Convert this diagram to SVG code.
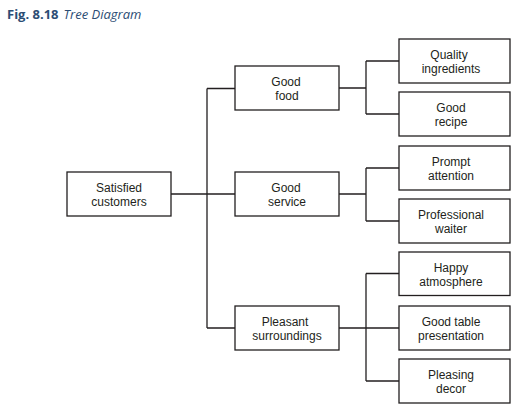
<svg xmlns="http://www.w3.org/2000/svg" width="512" height="415" viewBox="0 0 512 415">
<style>
.box{fill:#fff;stroke:#231f20;stroke-width:1.3}
.lbl{font-family:"Liberation Sans",Arial,sans-serif;font-size:12px;fill:#231f20;text-anchor:middle}
.con{fill:none;stroke:#231f20;stroke-width:1.3}
.title{font-family:"Open Sans","Noto Sans",sans-serif;font-size:13px;fill:#2c4d74}
</style>
<rect width="512" height="415" fill="#fff"/>
<text class="title" x="7" y="19"><tspan font-weight="bold">Fig. 8.18</tspan><tspan font-style="italic" dx="5">Tree Diagram</tspan></text>
<g id="connectors">
<path class="con" d="M171,194 H235 M207,88.5 V328 M207,88.5 H235 M207,328 H235"/>
<path class="con" d="M339,88 H366 M366,61 V114 M366,61 H399 M366,114 H399"/>
<path class="con" d="M339,194 H366 M366,168 V221 M366,168 H399 M366,221 H399"/>
<path class="con" d="M339,328 H366 M366,273.5 V381 M366,273.5 H399 M366,328 H399 M366,381 H399"/>
</g>
<g id="root"><rect class="box" x="67" y="172" width="104" height="44"/><text class="lbl" x="119" y="192">Satisfied</text><text class="lbl" x="119" y="206">customers</text></g>
<g id="food"><rect class="box" x="235" y="66" width="104" height="44"/><text class="lbl" x="286" y="86">Good</text><text class="lbl" x="287" y="100">food</text></g>
<g id="service"><rect class="box" x="235" y="172" width="104" height="44"/><text class="lbl" x="286" y="192">Good</text><text class="lbl" x="287" y="206">service</text></g>
<g id="surroundings"><rect class="box" x="235" y="306" width="104" height="44"/><text class="lbl" x="285" y="326">Pleasant</text><text class="lbl" x="287" y="340">surroundings</text></g>
<g id="quality"><rect class="box" x="399" y="39" width="111" height="44"/><text class="lbl" x="449" y="59">Quality</text><text class="lbl" x="451" y="73">ingredients</text></g>
<g id="recipe"><rect class="box" x="399" y="92" width="111" height="44"/><text class="lbl" x="451" y="112">Good</text><text class="lbl" x="451" y="126">recipe</text></g>
<g id="prompt"><rect class="box" x="399" y="146" width="111" height="44"/><text class="lbl" x="451" y="166">Prompt</text><text class="lbl" x="451" y="180">attention</text></g>
<g id="waiter"><rect class="box" x="399" y="199" width="111" height="44"/><text class="lbl" x="451" y="219">Professional</text><text class="lbl" x="451" y="233">waiter</text></g>
<g id="atmosphere"><rect class="box" x="399" y="252" width="111" height="43.5"/><text class="lbl" x="451" y="272">Happy</text><text class="lbl" x="451" y="286">atmosphere</text></g>
<g id="table"><rect class="box" x="399" y="306" width="111" height="44"/><text class="lbl" x="451" y="326">Good table</text><text class="lbl" x="451" y="340">presentation</text></g>
<g id="decor"><rect class="box" x="399" y="359" width="111" height="44"/><text class="lbl" x="451" y="379">Pleasing</text><text class="lbl" x="451" y="393">decor</text></g>
</svg>
